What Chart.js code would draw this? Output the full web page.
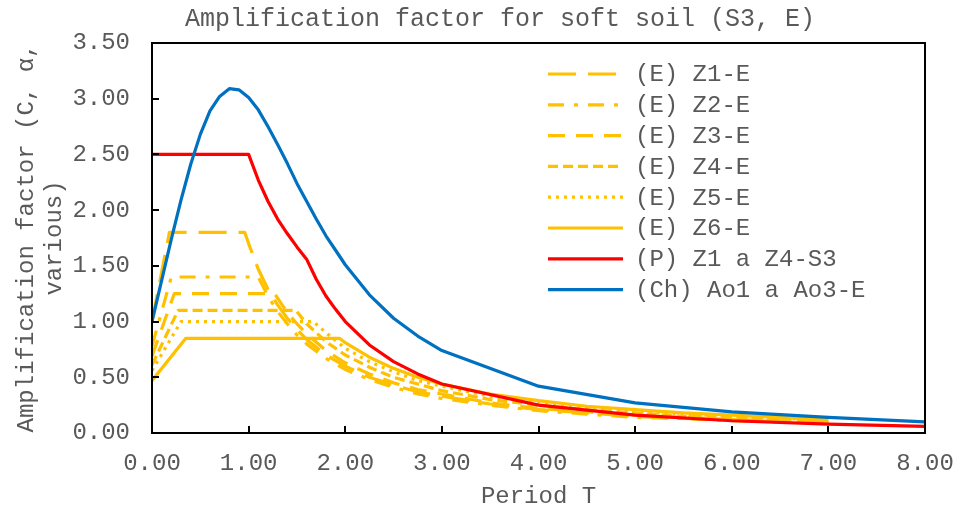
<!DOCTYPE html>
<html>
<head>
<meta charset="utf-8">
<script src="https://cdn.jsdelivr.net/npm/chart.js@4/dist/chart.umd.min.js"></script>
<style>html,body{margin:0;padding:0;background:#fff}</style>
</head>
<body>
<canvas id="c" width="958" height="510"></canvas>
<script>
const FONT = '"Liberation Mono", "Courier New", monospace'
const TEXT = '#595959'

const chartTitle = 'Amplification factor for soft soil (S3, E)'
const xTitle = 'Period T'
const yTitle = ['Amplification factor (C, \u03b1,', 'various)']
const seriesNames = ['(E) Z1-E','(E) Z2-E','(E) Z3-E','(E) Z4-E','(E) Z5-E','(E) Z6-E','(P) Z1 a Z4-S3','(Ch) Ao1 a Ao3-E']
const xTicks = [0,1,2,3,4,5,6,7,8]
const yTicks = [0,0.5,1,1.5,2,2.5,3,3.5]

// (E) spectra, one period list per zone
const periodZ1 = [0,0.18,0.96,1.0,1.1,1.2,1.3,1.4,1.5,1.6,1.8,2.0,2.25,2.5,2.75,3.0,3.5,4,4.5,5,5.5,6,6.5,7]
const factorZ1 = [1.00,1.80,1.80,1.70,1.47,1.29,1.15,1.03,0.93,0.84,0.70,0.60,0.50,0.43,0.37,0.33,0.26,0.21,0.18,0.15,0.13,0.12,0.10,0.09]
const periodZ2 = [0,0.20,1.10,1.2,1.3,1.4,1.5,1.6,1.8,2.0,2.25,2.5,2.75,3.0,3.5,4,4.5,5,5.5,6,6.5,7]
const factorZ2 = [0.78,1.40,1.40,1.23,1.09,0.98,0.88,0.80,0.67,0.57,0.48,0.41,0.35,0.31,0.25,0.20,0.17,0.14,0.13,0.11,0.10,0.09]
const periodZ3 = [0,0.23,1.27,1.3,1.4,1.5,1.6,1.8,2.0,2.25,2.5,2.75,3.0,3.5,4,4.5,5,5.5,6,6.5,7]
const factorZ3 = [0.69,1.25,1.25,1.21,1.08,0.98,0.89,0.74,0.63,0.53,0.45,0.39,0.35,0.27,0.22,0.19,0.16,0.14,0.12,0.11,0.10]
const periodZ4 = [0,0.27,1.49,1.6,1.8,2.0,2.25,2.5,2.75,3.0,3.5,4,4.5,5,5.5,6,6.5,7]
const factorZ4 = [0.61,1.10,1.10,0.98,0.82,0.70,0.59,0.50,0.44,0.38,0.30,0.25,0.21,0.18,0.15,0.14,0.12,0.11]
const periodZ5 = [0,0.30,1.67,1.8,2.0,2.25,2.5,2.75,3.0,3.5,4,4.5,5,5.5,6,6.5,7]
const factorZ5 = [0.56,1.00,1.00,0.90,0.76,0.64,0.55,0.47,0.42,0.33,0.27,0.23,0.19,0.17,0.15,0.13,0.12]
const periodZ6 = [0,0.35,1.94,2.0,2.25,2.5,2.75,3.0,3.5,4,4.5,5,5.5,6,6.5,7]
const factorZ6 = [0.47,0.85,0.85,0.81,0.68,0.58,0.50,0.44,0.35,0.29,0.24,0.21,0.18,0.16,0.14,0.12]

// (P) and (Ch) share one period list
const periodPCh = [0,0.1,0.2,0.3,0.4,0.5,0.6,0.7,0.8,0.9,1.0,1.1,1.2,1.3,1.4,1.5,1.6,1.7,1.8,1.9,2.0,2.25,2.5,2.75,3,4,5,6,7,8]
const factorP = [2.50,2.50,2.50,2.50,2.50,2.50,2.50,2.50,2.50,2.50,2.50,2.27,2.08,1.92,1.79,1.67,1.56,1.38,1.23,1.11,1.00,0.79,0.64,0.53,0.44,0.25,0.16,0.11,0.08,0.06]
const factorCh = [1.00,1.37,1.74,2.09,2.41,2.68,2.89,3.02,3.09,3.08,3.01,2.90,2.75,2.59,2.42,2.24,2.08,1.92,1.77,1.64,1.51,1.24,1.03,0.87,0.74,0.42,0.27,0.19,0.14,0.10]

const periods = [periodZ1,periodZ2,periodZ3,periodZ4,periodZ5,periodZ6,periodPCh,periodPCh]
const factors = [factorZ1,factorZ2,factorZ3,factorZ4,factorZ5,factorZ6,factorP,factorCh]
const colors = ['#FFC000','#FFC000','#FFC000','#FFC000','#FFC000','#FFC000','#FF0000','#0070C0']
const dashes = [[28,12],[16,10,4,10],[17,11],[10,5],[3,5],[],[],[]]

const datasets = seriesNames.map((name,i)=>({
  label:name,
  data:periods[i].map((t,k)=>({x:t,y:factors[i][k]})),
  borderColor:colors[i], borderWidth:3.2, borderDash:dashes[i],
  borderCapStyle:'butt', borderJoinStyle:'round',
  pointRadius:0, tension:0, fill:false,
  order:seriesNames.length-1-i
}))

// frame, inward ticks, legend and title
const extras = {
  id:'extras',
  afterDraw(chart){
    const {ctx, chartArea:a, scales:{x,y}} = chart
    ctx.save()
    ctx.strokeStyle='#000';ctx.lineWidth=2;ctx.setLineDash([])
    ctx.strokeRect(a.left,a.top,a.right-a.left,a.bottom-a.top)
    ctx.beginPath()
    y.ticks.forEach(t=>{const p=Math.round(y.getPixelForValue(t.value));ctx.moveTo(a.left,p);ctx.lineTo(a.left+7,p)})
    x.ticks.forEach(t=>{const p=Math.round(x.getPixelForValue(t.value));ctx.moveTo(p,a.bottom);ctx.lineTo(p,a.bottom-7)})
    ctx.stroke()
    ctx.font='24px '+FONT;ctx.fillStyle=TEXT;ctx.textBaseline='middle';ctx.textAlign='left'
    chart.data.datasets.forEach((ds,i)=>{
      const ly=a.top+31+i*30.8
      ctx.strokeStyle=ds.borderColor;ctx.lineWidth=ds.borderWidth;ctx.lineCap='butt'
      ctx.setLineDash(ds.borderDash)
      ctx.beginPath();ctx.moveTo(548,ly);ctx.lineTo(623,ly);ctx.stroke()
      ctx.fillText(ds.label,635,ly+1)
    })
    ctx.setLineDash([])
    ctx.font='25px '+FONT;ctx.textAlign='center'
    ctx.fillText(chartTitle,500,19)
    ctx.restore()
  }
}

new Chart(document.getElementById('c'),{
  type:'line',
  data:{datasets},
  options:{
    responsive:false, animation:false,
    layout:{padding:{top:43,right:33,left:0,bottom:0}},
    plugins:{legend:{display:false},tooltip:{enabled:false},title:{display:false}},
    scales:{
      x:{type:'linear',min:0,max:8,
        afterFit:s=>{s.height=77;s.paddingLeft=0;s.paddingRight=0},
        afterBuildTicks:s=>{s.ticks=xTicks.map(v=>({value:v}))},
        grid:{display:false,drawTicks:false},border:{display:false},
        ticks:{padding:16,color:TEXT,font:{family:FONT,size:24},callback:v=>Number(v).toFixed(2),maxRotation:0,autoSkip:false},
        title:{display:true,text:xTitle,color:TEXT,font:{family:FONT,size:24,lineHeight:1.15},padding:{top:0,bottom:0}}
      },
      y:{min:0,max:3.5,
        afterFit:s=>{s.width=152;s.paddingTop=0;s.paddingBottom=0},
        afterBuildTicks:s=>{s.ticks=yTicks.map(v=>({value:v}))},
        grid:{display:false,drawTicks:false},border:{display:false},
        ticks:{padding:22,color:TEXT,font:{family:FONT,size:24},callback:v=>Number(v).toFixed(2),autoSkip:false},
        title:{display:true,text:yTitle,color:TEXT,font:{family:FONT,size:24,lineHeight:1.15},padding:{top:13,bottom:0}}
      }
    }
  },
  plugins:[extras]
})
</script>
</body>
</html>
